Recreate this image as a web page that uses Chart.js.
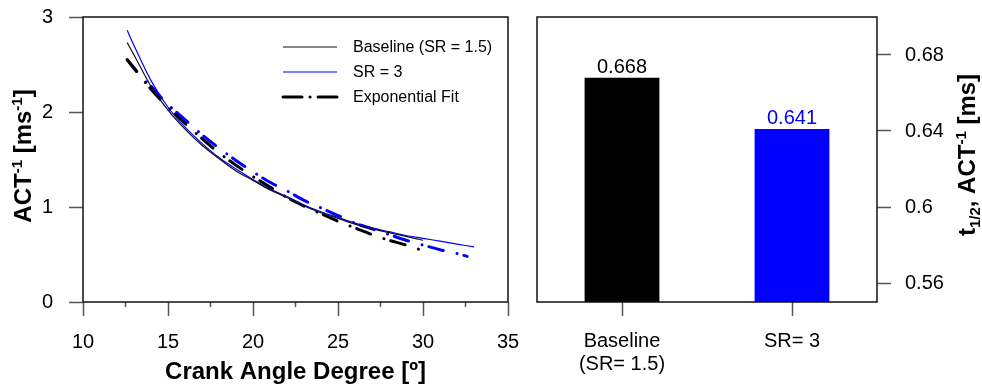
<!DOCTYPE html>
<html>
<head>
<meta charset="utf-8">
<script src="https://cdn.jsdelivr.net/npm/chart.js@4.4.1/dist/chart.umd.min.js"></script>
<style>
  body { margin: 0; background: #fff; }
  #wrap { position: relative; width: 982px; height: 388px; }
  #left { position: absolute; left: 0; top: 0; }
  #right { position: absolute; left: 520px; top: 0; }
</style>
</head>
<body>
<div id="wrap">
  <canvas id="left" width="520" height="388"></canvas>
  <canvas id="right" width="462" height="388"></canvas>
</div>
<script>
// ---- left panel data: ACT^-1 vs crank angle ----
const baseX = [12.6, 13, 14, 15, 16, 17, 18, 19, 20, 21, 22, 23, 24, 25, 26, 27, 28, 29, 30];
const baseY = [2.73, 2.60, 2.27, 2.02, 1.82, 1.65, 1.51, 1.38, 1.28, 1.18, 1.10, 1.01, 0.94, 0.88, 0.82, 0.77, 0.73, 0.69, 0.65];
const sr3X = [12.6, 13, 14, 15, 16, 17, 18, 19, 20, 21, 22, 23, 24, 25, 26, 27, 28, 29, 30, 31, 32, 33];
const sr3Y = [2.86, 2.70, 2.33, 2.05, 1.84, 1.67, 1.52, 1.40, 1.29, 1.19, 1.11, 1.02, 0.95, 0.89, 0.83, 0.78, 0.74, 0.70, 0.67, 0.64, 0.61, 0.58];
const fitBaseX = [12.6, 13.4, 14, 15, 16, 17, 18, 19, 20, 21, 22, 23, 24, 25, 26, 27, 28, 29, 30];
const fitBaseY = [2.55, 2.37, 2.24, 2.05, 1.88, 1.72, 1.57, 1.44, 1.32, 1.21, 1.10, 1.01, 0.93, 0.85, 0.78, 0.71, 0.65, 0.60, 0.54];
const fitSr3X = [12.6, 13.6, 14, 15, 16, 17, 18, 19, 20, 21, 22, 23, 24, 25, 26, 27, 28, 29, 30, 31, 32, 32.6];
const fitSr3Y = [2.55, 2.34, 2.27, 2.08, 1.92, 1.76, 1.62, 1.49, 1.37, 1.26, 1.17, 1.07, 0.99, 0.91, 0.83, 0.77, 0.71, 0.65, 0.60, 0.55, 0.51, 0.48];
const xMajor = [10, 15, 20, 25, 30, 35];
const xMinor = [12.5, 17.5, 22.5, 27.5, 32.5];
const yLeftTicks = [0, 1, 2, 3];

// ---- right panel data ----
const barLabels = [["Baseline", "(SR= 1.5)"], "SR= 3"];
const barValues = [0.668, 0.641];
const barColors = ["#000000", "#0000ff"];
const yRightTicks = [0.56, 0.60, 0.64, 0.68];

const FONT = '"Liberation Sans", Arial, sans-serif';
const BLUE = '#0000ff';
const fitDash = [15, 14, 0.1, 7];

function pts(xs, ys) {
  return xs.map((x, i) => ({ x: x, y: ys[i] }));
}

// fixed axis size, and no extra room for label overflow (layout padding handles it)
function fixSize(w, h) {
  return s => {
    if (w) s.width = w;
    if (h) s.height = h;
    s.paddingTop = s.paddingBottom = s.paddingLeft = s.paddingRight = 0;
  };
}

// box around the plot area
const frame = {
  id: 'frame',
  afterDraw(chart) {
    const a = chart.chartArea, ctx = chart.ctx;
    ctx.save();
    ctx.strokeStyle = '#111';
    ctx.lineWidth = 1.5;
    ctx.strokeRect(a.left, a.top, a.right - a.left, a.bottom - a.top);
    ctx.restore();
  }
};

// vertical title with super/subscripts, reads bottom to top
function vTitle(ctx, cx, cy, parts, size) {
  const big = 'bold ' + size + 'px ' + FONT;
  const small = 'bold ' + Math.round(size * 0.62) + 'px ' + FONT;
  ctx.save();
  ctx.translate(cx, cy);
  ctx.rotate(-Math.PI / 2);
  ctx.fillStyle = '#000';
  ctx.textBaseline = 'alphabetic';
  let total = 0;
  parts.forEach(p => { ctx.font = p[1] ? small : big; total += ctx.measureText(p[0]).width; });
  let x = -total / 2;
  parts.forEach(p => {
    ctx.font = p[1] ? small : big;
    let dy = 0;
    if (p[1] === 'sup') dy = -size * 0.38;
    if (p[1] === 'sub') dy = size * 0.22;
    ctx.fillText(p[0], x, size * 0.36 + dy);
    x += ctx.measureText(p[0]).width;
  });
  ctx.restore();
}

const leftDeco = {
  id: 'leftDeco',
  afterDraw(chart) {
    const ctx = chart.ctx;
    vTitle(ctx, 22, 156, [['ACT'], ['-1', 'sup'], [' [ms'], ['-1', 'sup'], [']']], 24);
    // legend
    const rows = [
      { text: 'Baseline (SR = 1.5)', color: '#111', width: 1.2, dash: [] },
      { text: 'SR = 3', color: BLUE, width: 1.2, dash: [] },
      { text: 'Exponential Fit', color: '#000', width: 3, dash: [19, 8, 0.1, 8] }
    ];
    ctx.save();
    ctx.font = '16px ' + FONT;
    ctx.textBaseline = 'middle';
    rows.forEach((r, i) => {
      const y = 47 + i * 25;
      ctx.beginPath();
      ctx.strokeStyle = r.color;
      ctx.lineWidth = r.width;
      ctx.lineCap = r.dash.length ? 'round' : 'butt';
      ctx.setLineDash(r.dash);
      ctx.moveTo(283, y);
      ctx.lineTo(337, y);
      ctx.stroke();
      ctx.fillStyle = '#000';
      ctx.fillText(r.text, 353, y + 1);
    });
    ctx.restore();
  }
};

new Chart(document.getElementById('left'), {
  type: 'line',
  data: {
    datasets: [
      { data: pts(baseX, baseY), borderColor: '#111', borderWidth: 1.2, order: 1 },
      { data: pts(sr3X, sr3Y), borderColor: BLUE, borderWidth: 1.2, order: 2 },
      { data: pts(fitBaseX, fitBaseY), borderColor: '#000', borderWidth: 3, borderDash: fitDash, borderCapStyle: 'round', order: 3 },
      { data: pts(fitSr3X, fitSr3Y), borderColor: BLUE, borderWidth: 3, borderDash: fitDash, borderCapStyle: 'round', order: 4 }
    ]
  },
  options: {
    responsive: false,
    animation: false,
    parsing: false,
    layout: { padding: { top: 17, right: 12, left: 0, bottom: 0 } },
    elements: { point: { radius: 0 }, line: { cubicInterpolationMode: 'monotone', fill: false } },
    plugins: { legend: { display: false }, tooltip: { enabled: false } },
    scales: {
      x: {
        type: 'linear', min: 10, max: 35,
        afterFit: fixSize(0, 86),
        afterBuildTicks: s => { s.ticks = xMajor.concat(xMinor).sort((a, b) => a - b).map(v => ({ value: v })); },
        border: { display: false },
        grid: {
          drawOnChartArea: false, tickLength: 14, tickColor: '#555', tickWidth: 1.5,
          tickBorderDash: c => (c.tick && xMinor.includes(c.tick.value)) ? [5, 40] : []
        },
        ticks: {
          color: '#000', padding: 14, maxRotation: 0, autoSkip: false,
          font: { family: FONT, size: 20 },
          callback: v => xMajor.includes(v) ? String(v) : ''
        },
        title: {
          display: true, text: 'Crank Angle Degree [º]', color: '#000',
          font: { family: FONT, size: 24, weight: 'bold' }, padding: { top: 0, bottom: 1 }
        }
      },
      y: {
        min: 0, max: 3,
        afterFit: fixSize(83, 0),
        afterBuildTicks: s => { s.ticks = yLeftTicks.map(v => ({ value: v })); },
        border: { display: false },
        grid: { drawOnChartArea: false, tickLength: 14, tickColor: '#555', tickWidth: 1.5 },
        ticks: { color: '#000', padding: 16, font: { family: FONT, size: 20 }, callback: v => String(v) }
      }
    }
  },
  plugins: [frame, leftDeco]
});

const rightDeco = {
  id: 'rightDeco',
  afterDraw(chart) {
    const ctx = chart.ctx;
    vTitle(ctx, 446, 155, [['t'], ['1/2', 'sub'], [', ACT'], ['-1', 'sup'], [' [ms]']], 24);
    const meta = chart.getDatasetMeta(0);
    ctx.save();
    ctx.font = '20px ' + FONT;
    ctx.textAlign = 'center';
    ctx.textBaseline = 'alphabetic';
    meta.data.forEach((bar, i) => {
      ctx.fillStyle = barColors[i];
      ctx.fillText(barValues[i].toFixed(3), bar.x, bar.y - 5);
    });
    ctx.restore();
  }
};

new Chart(document.getElementById('right'), {
  type: 'bar',
  data: {
    labels: barLabels,
    datasets: [{ data: barValues, backgroundColor: barColors, borderWidth: 0, barPercentage: 0.88, categoryPercentage: 0.5 }]
  },
  options: {
    responsive: false,
    animation: false,
    layout: { padding: { top: 17, right: 0, left: 17, bottom: 0 } },
    plugins: { legend: { display: false }, tooltip: { enabled: false } },
    scales: {
      x: {
        afterFit: fixSize(0, 86),
        border: { display: false },
        grid: { drawOnChartArea: false, offset: false, tickLength: 14, tickColor: '#555', tickWidth: 1.5 },
        ticks: { color: '#000', padding: 14, maxRotation: 0, font: { family: FONT, size: 20, lineHeight: 1.15 } }
      },
      y: {
        position: 'right', min: 0.55, max: 0.70,
        afterFit: fixSize(105, 0),
        afterBuildTicks: s => { s.ticks = yRightTicks.map(v => ({ value: v })); },
        border: { display: false },
        grid: { drawOnChartArea: false, tickLength: 14, tickColor: '#555', tickWidth: 1.5 },
        ticks: { color: '#000', padding: 14, font: { family: FONT, size: 20 }, callback: v => String(v) }
      }
    }
  },
  plugins: [frame, rightDeco]
});
</script>
</body>
</html>
